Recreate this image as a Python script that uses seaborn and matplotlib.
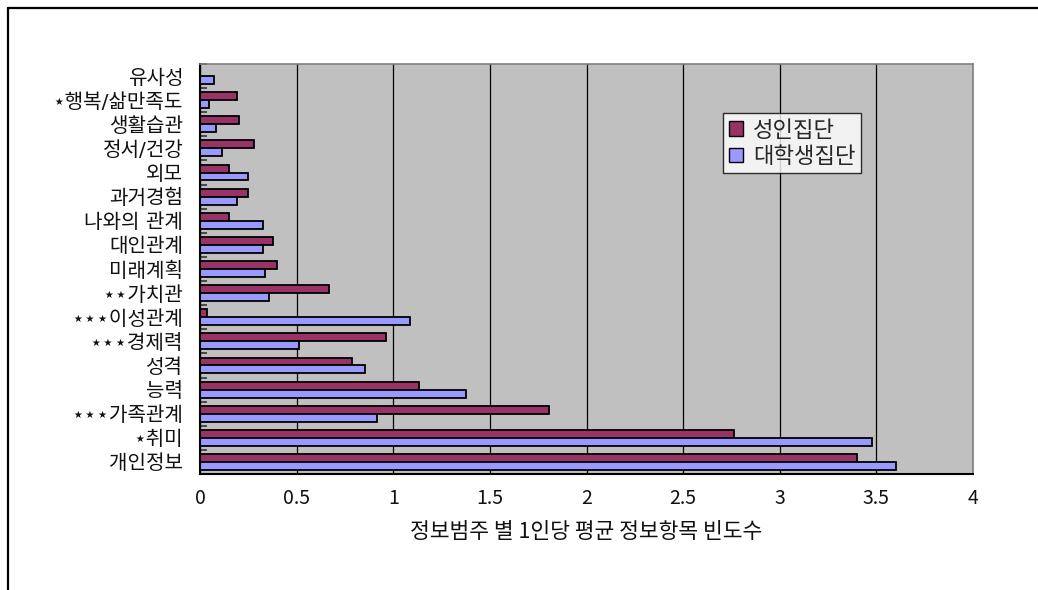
import matplotlib
matplotlib.use("Agg")
import matplotlib.pyplot as plt
from matplotlib.lines import Line2D
from matplotlib.ticker import FixedLocator
import seaborn as sns
import pandas as pd

# Information categories, top to bottom
categories = [
    "유사성", "⋆행복/삶만족도", "생활습관", "정서/건강", "외모", "과거경험",
    "나와의 관계", "대인관계", "미래계획", "⋆⋆가치관", "⋆⋆⋆이성관계",
    "⋆⋆⋆경제력", "성격", "능력", "⋆⋆⋆가족관계", "⋆취미", "개인정보",
]
adult_values = [
    0.0, 0.19, 0.20, 0.28, 0.15, 0.25, 0.15, 0.38, 0.40, 0.67, 0.035,
    0.96, 0.785, 1.135, 1.805, 2.765, 3.40,
]
student_values = [
    0.075, 0.045, 0.085, 0.115, 0.25, 0.19, 0.325, 0.325, 0.335, 0.355, 1.085,
    0.51, 0.855, 1.375, 0.915, 3.475, 3.60,
]
groups = ["성인집단", "대학생집단"]
group_colors = ["#993366", "#9999FF"]
x_ticks = [0, 0.5, 1, 1.5, 2, 2.5, 3, 3.5, 4]
x_tick_labels = ["0", "0.5", "1", "1.5", "2", "2.5", "3", "3.5", "4"]
x_title = "정보범주 별 1인당 평균 정보항목 빈도수"

df = pd.DataFrame({
    "category": categories * 2,
    "value": adult_values + student_values,
    "group": [groups[0]] * len(categories) + [groups[1]] * len(categories),
})

sns.set_theme(style="white")
plt.rcParams["font.family"] = ["Noto Sans CJK KR", "DejaVu Sans"]
# star marks come from DejaVu Sans, Hangul from Noto Sans CJK KR
label_family = ["DejaVu Sans", "Noto Sans CJK KR"]

W, H = 1038, 590
fig = plt.figure(figsize=(W / 100, H / 100), dpi=100)
fig.patch.set_facecolor("white")
ax = fig.add_axes([200 / W, 1 - 474 / H, 773 / W, 410 / H])
ax.set_facecolor("#C0C0C0")

sns.barplot(
    data=df, x="value", y="category", hue="group", order=categories,
    hue_order=groups, palette=group_colors, orient="h", width=0.66,
    edgecolor="black", linewidth=1.3, saturation=1, ax=ax, legend=True,
)

ax.set_xlim(0, 4)
ax.set_ylim(len(categories) - 0.5, -0.5)
ax.xaxis.set_major_locator(FixedLocator(x_ticks))
ax.set_xticklabels(x_tick_labels, fontsize=14, color="#111111")
ax.grid(axis="x", color="black", linewidth=0.9)
ax.grid(axis="y", visible=False)
ax.set_axisbelow(True)
ax.tick_params(axis="x", length=0, pad=10)

ax.tick_params(axis="y", which="major", length=0, pad=12)
ax.set_yticks(range(len(categories)))
ax.set_yticklabels(categories, fontsize=14.5, color="#111111", family=label_family)
ax.yaxis.set_minor_locator(FixedLocator([i - 0.5 for i in range(len(categories) + 1)]))
ax.tick_params(axis="y", which="minor", direction="in", length=5, width=1.2,
               color="#333333", left=True)

ax.set_xlabel(x_title, fontsize=15.5, color="#111111", labelpad=9)
ax.set_ylabel("")

for side in ["left", "bottom"]:
    ax.spines[side].set_color("black")
    ax.spines[side].set_linewidth(1.5)
for side in ["top", "right"]:
    ax.spines[side].set_color("#808080")
    ax.spines[side].set_linewidth(1.2)

leg = ax.legend(
    loc="upper left", bbox_to_anchor=(723 / W, 1 - 113 / H),
    bbox_transform=fig.transFigure, frameon=True, prop={"size": 16},
    fancybox=False, shadow=False, handlelength=0.65, handleheight=0.65,
    handletextpad=0.45, borderpad=0.25, labelspacing=0.15, borderaxespad=0,
)
leg.get_frame().set_edgecolor("black")
leg.get_frame().set_linewidth(1.0)
leg.get_frame().set_facecolor("white")
for handle in leg.legend_handles:
    handle.set_edgecolor("black")
    handle.set_linewidth(1.0)

# Outer chart border (top and left edges)
fig.add_artist(Line2D([8 / W, 1.0], [1 - 8 / H, 1 - 8 / H], transform=fig.transFigure,
                      color="black", linewidth=1.6))
fig.add_artist(Line2D([8 / W, 8 / W], [1 - 8 / H, 0.0], transform=fig.transFigure,
                      color="black", linewidth=1.6))

fig.savefig("out.png", dpi=100, facecolor="white")
